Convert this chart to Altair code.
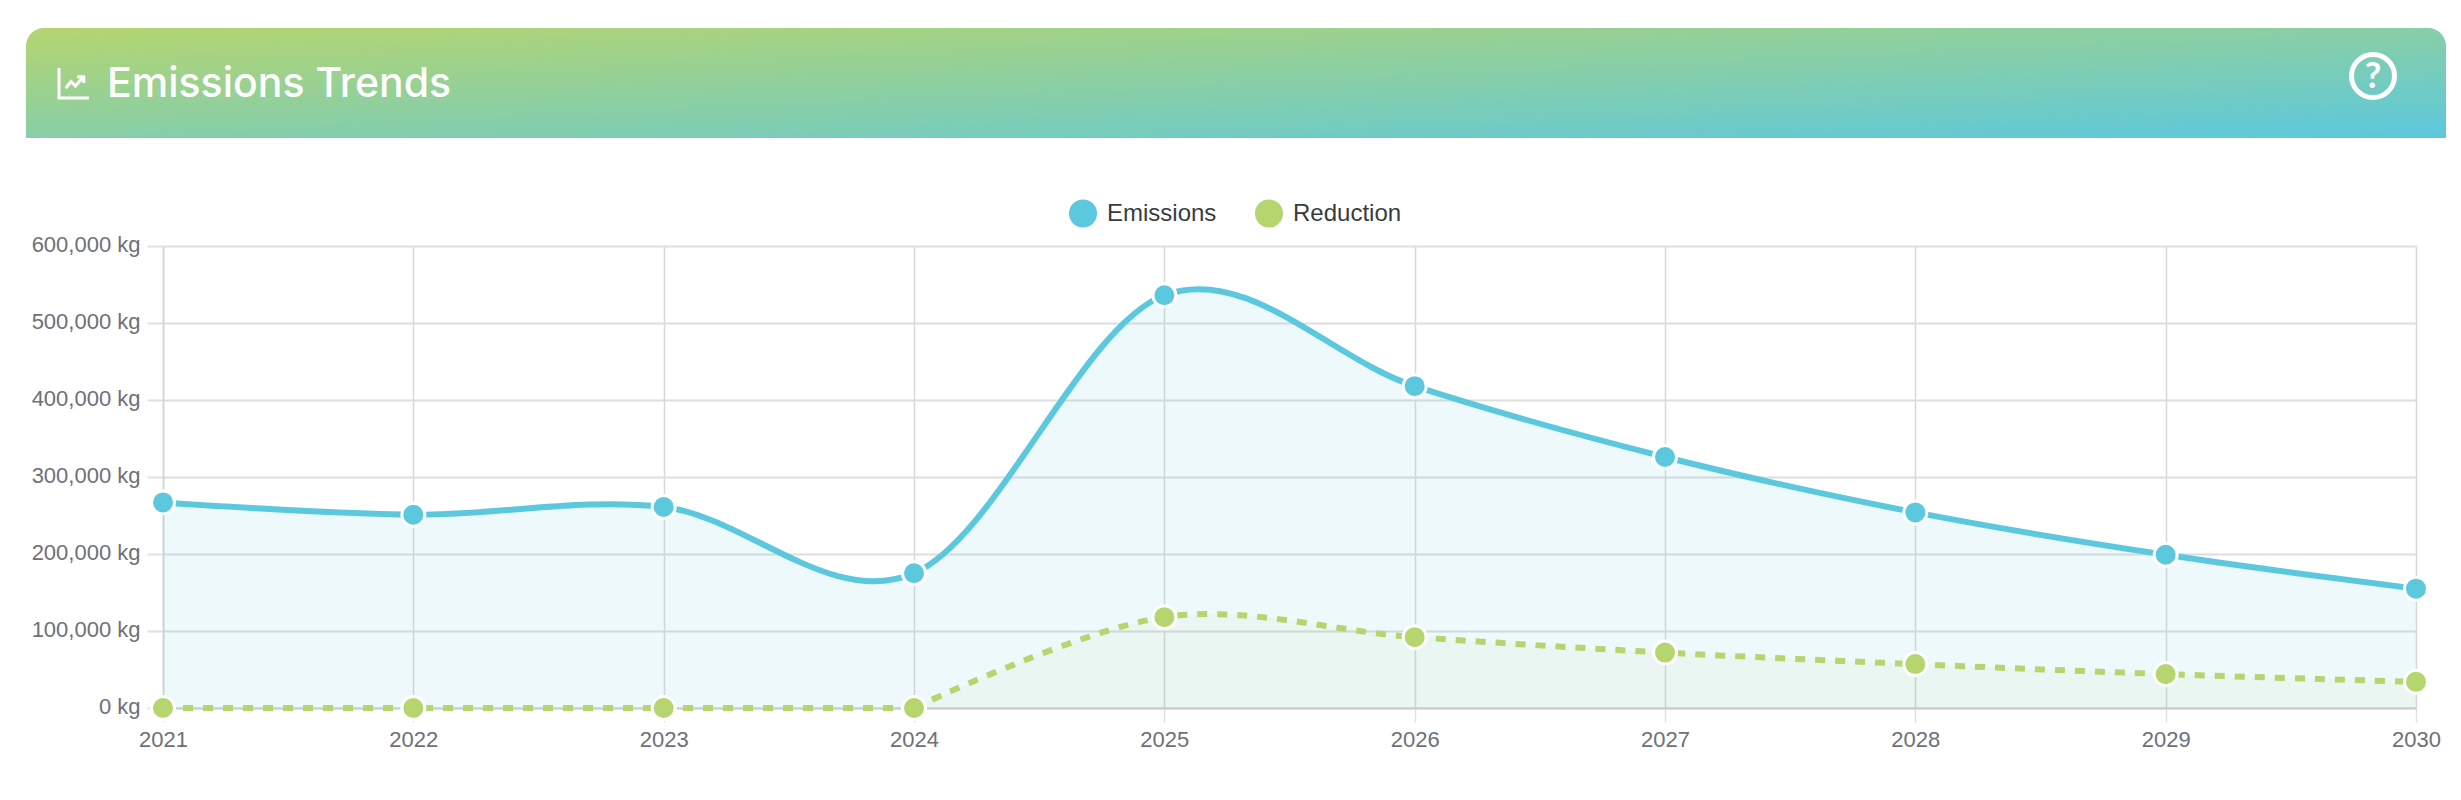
import altair as alt
import pandas as pd

years = ["2021", "2022", "2023", "2024", "2025", "2026", "2027", "2028", "2029", "2030"]
emissions = [267000, 251000, 261000, 175000, 536000, 418000, 326000, 254000, 199000, 155000]
reduction = [0, 0, 0, 0, 118000, 92000, 72000, 57000, 44000, 34000]
series_names = ["Emissions", "Reduction"]
series_colors = ["#5CC8DE", "#B5D56F"]
y_ticks = [0, 100000, 200000, 300000, 400000, 500000, 600000]

BLUE, GREEN = series_colors
FONT = "Liberation Sans"
rows = [{"year": y, "value": v, "series": "Emissions"} for y, v in zip(years, emissions)]
rows += [{"year": y, "value": v, "series": "Reduction"} for y, v in zip(years, reduction)]
df = pd.DataFrame(rows)
em = df[df.series == "Emissions"]
re = df[df.series == "Reduction"]
# the reduction curve stays flat on the zero line up to 2024, then rises
re_flat = re[re.value == 0]
re_rise = re[re.year >= "2024"]

x = alt.X("year:O", scale=alt.Scale(type="point", padding=0), title=None,
          axis=alt.Axis(labelAngle=0, labelFontSize=22, labelFont=FONT, labelColor="#6E7079",
                        labelPadding=7, tickSize=14, tickColor="#E0E0E0", tickWidth=1.5,
                        grid=True, gridColor="#D8D8D8", gridWidth=1.5,
                        domain=True, domainColor="#CBCDCD", domainWidth=2))
y = alt.Y("value:Q", scale=alt.Scale(domain=[0, 600000]), title=None,
          axis=alt.Axis(values=y_ticks, labelExpr="format(datum.value, ',') + ' kg'",
                        labelFontSize=22, labelFont=FONT, labelColor="#6E7079", labelPadding=7,
                        labelOffset=-1.5,
                        tickSize=16, tickColor="#E0E0E0", tickWidth=2,
                        grid=True, gridColor="#DEDEDE", gridWidth=2,
                        domain=True, domainColor="#D0D3D6", domainWidth=1.5))

one = alt.Data(values=[{"a": 1}])
header = alt.Chart(one).mark_rect(
    color=alt.Gradient(gradient="linear", x1=0, y1=0, x2=1, y2=1,
                       stops=[alt.GradientStop(color=GREEN, offset=0),
                              alt.GradientStop(color=BLUE, offset=1)]),
    cornerRadiusTopLeft=18, cornerRadiusTopRight=18,
).encode(x=alt.value(-137), x2=alt.value(2283), y=alt.value(-218), y2=alt.value(-108))
title = alt.Chart(one).mark_text(text="Emissions Trends", font="Inter", fontSize=41, fontWeight=500,
                                 color="white", align="left", baseline="alphabetic").encode(
    x=alt.value(-56), y=alt.value(-149))
icon_path = "M-1,-1 L-1,1 L1,1 M-0.55,0.35 L-0.2,-0.1 L0.1,0.2 L0.6,-0.4 M0.2,-0.42 L0.65,-0.42 L0.65,0"
icon = alt.Chart(one).mark_point(shape=icon_path, filled=False, stroke="white", strokeWidth=3,
                                 size=900, opacity=1).encode(
    x=alt.value(-89), y=alt.value(-163))
help_ring = alt.Chart(one).mark_point(shape="circle", filled=False, stroke="white", strokeWidth=5,
                                      size=1849, opacity=1).encode(
    x=alt.value(2210), y=alt.value(-170))
help_q = alt.Chart(one).mark_text(text="?", font="Lato", fontWeight="bold", fontSize=36, color="white",
                                  align="center", baseline="middle").encode(
    x=alt.value(2210), y=alt.value(-169))

curve = dict(interpolate="cardinal", tension=0)
area_e = alt.Chart(em).mark_area(color="#5CC8D8", opacity=0.11, **curve).encode(x=x, y=y)
area_r = alt.Chart(re_rise).mark_area(color=GREEN, opacity=0.07, **curve).encode(x=x, y=y)
line_e = alt.Chart(em).mark_line(color=BLUE, strokeWidth=6, **curve).encode(x=x, y=y)
line_r0 = alt.Chart(re_flat).mark_line(color=GREEN, strokeWidth=6, strokeDash=[10, 10]).encode(x=x, y=y)
line_r = alt.Chart(re_rise).mark_line(color=GREEN, strokeWidth=6, strokeDash=[10, 10], **curve).encode(x=x, y=y)
points = alt.Chart(df).mark_point(filled=True, size=530, stroke="white", strokeWidth=3, opacity=1).encode(
    x=x, y=y,
    fill=alt.Fill("series:N", title=None,
                  scale=alt.Scale(domain=series_names, range=series_colors),
                  legend=alt.Legend(orient="none", legendX=906, legendY=-46.5, direction="horizontal",
                                    symbolType="circle", symbolSize=784, symbolStrokeWidth=0,
                                    labelFont=FONT, labelFontSize=24, labelColor="#373D3F",
                                    labelOffset=10, columnPadding=38, title=None)))

chart = alt.layer(header, icon, title, help_ring, help_q, area_e, area_r, line_e, line_r0, line_r, points).properties(
    width=2253, height=462,
    background="white",
    autosize=alt.AutoSizeParams(type="none"),
    padding={"left": 155, "top": 238, "right": 37, "bottom": 60},
).configure_view(stroke=None)

chart.save("out.html", embed_options={"renderer": "svg", "actions": False})
